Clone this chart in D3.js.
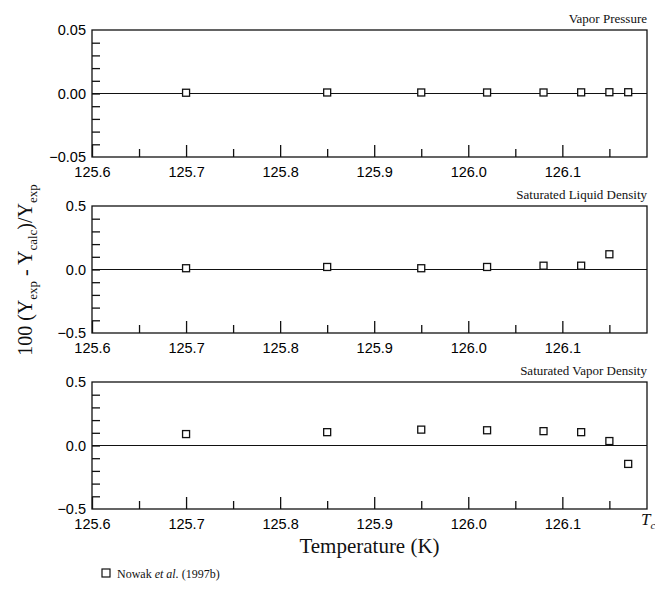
<!DOCTYPE html>
<html lang="en">
	<head>
		<meta charset="utf-8">
		<title>D3: Deviation plots near Tc</title>
		<script type="text/javascript" src="https://d3js.org/d3.v7.min.js"></script>
		<style type="text/css">
			body { margin: 0; background: #fff; }
			.tick text { font-family: "Liberation Sans", Arial, sans-serif; font-size: 14.5px; fill: #000; }
			.serif { font-family: "Liberation Serif", "Times New Roman", serif; fill: #111; }
		</style>
	</head>
	<body>

		<div id="chart"></div>

		<script type="text/javascript">

    // data
    var vpT   = [125.7, 125.85, 125.95, 126.02, 126.08, 126.12, 126.15, 126.17];
    var vpDev = [0.0006, 0.0008, 0.0008, 0.0008, 0.0008, 0.0009, 0.0010, 0.0010];

    var ldT   = [125.7, 125.85, 125.95, 126.02, 126.08, 126.12, 126.15];
    var ldDev = [0.01, 0.02, 0.01, 0.02, 0.03, 0.03, 0.12];

    var vdT   = [125.7, 125.85, 125.95, 126.02, 126.08, 126.12, 126.15, 126.17];
    var vdDev = [0.09, 0.105, 0.125, 0.12, 0.113, 0.105, 0.035, -0.145];

    var xMajor = [125.6, 125.7, 125.8, 125.9, 126.0, 126.1];
    var xMinor = [125.65, 125.75, 125.85, 125.95, 126.05, 126.15];

    var panels = [
      { title: "Vapor Pressure", T: vpT, dev: vpDev, lim: 0.05,
        yLabels: [0.05, 0, -0.05], yTicks: d3.range(-4, 5).map(function(k){ return k * 0.01; }), fmt: ".2f", top: 30 },
      { title: "Saturated Liquid Density", T: ldT, dev: ldDev, lim: 0.5,
        yLabels: [0.5, 0, -0.5], yTicks: d3.range(-4, 5).map(function(k){ return k * 0.1; }), fmt: ".1f", top: 206 },
      { title: "Saturated Vapor Density", T: vdT, dev: vdDev, lim: 0.5,
        yLabels: [0.5, 0, -0.5], yTicks: d3.range(-4, 5).map(function(k){ return k * 0.1; }), fmt: ".1f", top: 382 }
    ];

    var w = 655;
    var h = 591;
    var left = 92;
    var right = 647;
    var ph = 127;

    var svg = d3.select("#chart")
        .append("svg")
        .attr("width", w)
        .attr("height", h);

    var xScale = d3.scaleLinear()
        .domain([125.6, 126.19])
        .range([left, right]);

    panels.forEach(function(p){

        var yScale = d3.scaleLinear()
            .domain([-p.lim, p.lim])
            .range([p.top + ph, p.top]);

        var g = svg.append("g");

        // frame
        g.append("rect")
          .attr("x", left)
          .attr("y", p.top)
          .attr("width", right - left)
          .attr("height", ph)
          .attr("fill", "none")
          .attr("stroke", "#111")
          .attr("stroke-width", 1.3);

        // zero line
        g.append("line")
          .attr("x1", left).attr("x2", right)
          .attr("y1", yScale(0)).attr("y2", yScale(0))
          .attr("stroke", "#111")
          .attr("stroke-width", 1.2);

        // x axis: major ticks with labels, minor ticks without
        var xAxis = d3.axisBottom(xScale)
            .tickValues(xMajor)
            .tickFormat(d3.format(".1f"))
            .tickSizeInner(-12)
            .tickSizeOuter(0)
            .tickPadding(10);

        var xMinorAxis = d3.axisBottom(xScale)
            .tickValues(xMinor)
            .tickFormat("")
            .tickSizeInner(-8)
            .tickSizeOuter(0);

        g.append("g")
          .attr("transform", "translate(0," + (p.top + ph) + ")")
          .call(xAxis);

        g.append("g")
          .attr("transform", "translate(0," + (p.top + ph) + ")")
          .call(xMinorAxis);

        // y axis: inward ticks, labels at limits and zero
        var yAxis = d3.axisLeft(yScale)
            .tickValues(p.yLabels)
            .tickFormat(d3.format(p.fmt))
            .tickSize(0)
            .tickPadding(6);

        var yTickAxis = d3.axisLeft(yScale)
            .tickValues(p.yTicks)
            .tickFormat("")
            .tickSizeInner(-8)
            .tickSizeOuter(0);

        g.append("g")
          .attr("transform", "translate(" + left + ",0)")
          .call(yAxis);

        g.append("g")
          .attr("transform", "translate(" + left + ",0)")
          .call(yTickAxis);

        g.selectAll(".domain").remove();
        g.selectAll(".tick line").attr("stroke", "#111").attr("stroke-width", 1.3);

        // panel title
        g.append("text")
          .attr("class", "serif")
          .attr("x", right)
          .attr("y", p.top - 7)
          .attr("text-anchor", "end")
          .style("font-size", "13px")
          .text(p.title);

        // points
        g.selectAll("rect.pt")
          .data(p.T)
          .enter()
          .append("rect")
          .attr("class", "pt")
          .attr("x", function(d, i){ return xScale(d) - 3.5; })
          .attr("y", function(d, i){ return yScale(p.dev[i]) - 3.5; })
          .attr("width", 7)
          .attr("height", 7)
          .attr("fill", "#fff")
          .attr("stroke", "#111")
          .attr("stroke-width", 1.3);
    });

    // y axis title
    var yt = svg.append("text")
        .attr("class", "serif")
        .attr("transform", "translate(32,270) rotate(-90)")
        .attr("text-anchor", "middle")
        .style("font-size", "20px");
    yt.append("tspan").text("100 (Y");
    yt.append("tspan").attr("dy", 5).style("font-size", "13px").text("exp");
    yt.append("tspan").attr("dy", -5).text(" - Y");
    yt.append("tspan").attr("dy", 5).style("font-size", "13px").text("calc");
    yt.append("tspan").attr("dy", -5).text(")/Y");
    yt.append("tspan").attr("dy", 5).style("font-size", "13px").text("exp");

    // x axis title
    svg.append("text")
      .attr("class", "serif")
      .attr("x", (left + right) / 2)
      .attr("y", 553)
      .attr("text-anchor", "middle")
      .style("font-size", "21px")
      .text("Temperature (K)");

    // Tc marker
    var tc = svg.append("text")
      .attr("class", "serif")
      .attr("x", 641)
      .attr("y", 525)
      .style("font-size", "17px")
      .style("font-style", "italic");
    tc.append("tspan").text("T");
    tc.append("tspan").attr("dy", 4).style("font-size", "11px").text("c");

    // legend
    svg.append("rect")
      .attr("x", 102)
      .attr("y", 569)
      .attr("width", 8)
      .attr("height", 8)
      .attr("fill", "#fff")
      .attr("stroke", "#111")
      .attr("stroke-width", 1.2);

    var lg = svg.append("text")
      .attr("class", "serif")
      .attr("x", 117)
      .attr("y", 578)
      .style("font-size", "12px");
    lg.append("tspan").text("Nowak ");
    lg.append("tspan").style("font-style", "italic").text("et al.");
    lg.append("tspan").text(" (1997b)");

		</script>
	</body>
</html>
